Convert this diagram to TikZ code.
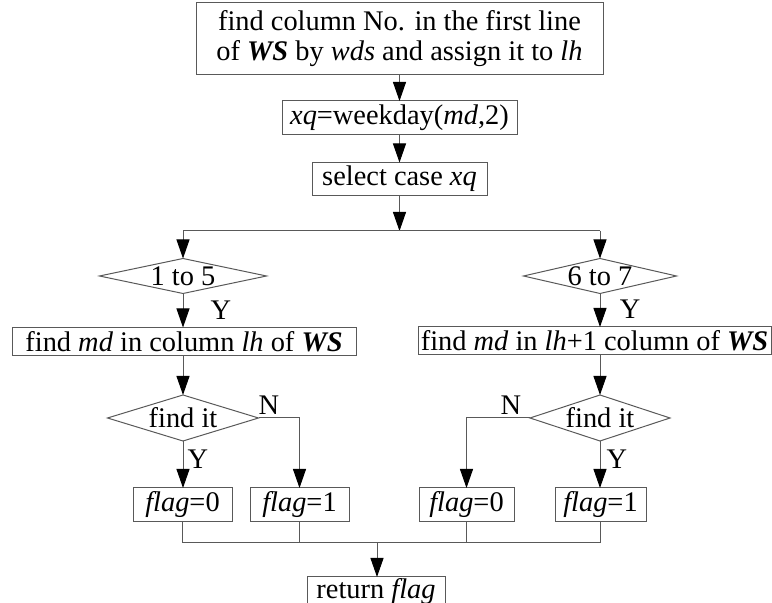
\documentclass[tikz,border=0pt]{standalone}
\usepackage{fontspec}
\setmainfont{Liberation Serif}
\usetikzlibrary{arrows.meta,shapes.geometric}
\begin{document}
\begin{tikzpicture}[x=0.5pt,y={(0pt,-0.5pt)},
    font=\fontsize{14.2pt}{15pt}\selectfont,
    flowbox/.style={draw=black!65,line width=0.5pt,inner sep=0pt,outer sep=0pt},
    cond/.style={diamond,draw=black!65,line width=0.5pt,inner sep=0pt,outer sep=0pt},
    ln/.style={draw=black!65,line width=0.5pt},
    arr/.style={ln,-{Triangle[width=6.5pt,length=9.5pt,color=black]}}]
        \useasboundingbox (0,0) rectangle (772,603);
        \node[flowbox,minimum width=203.5pt,minimum height=36pt,align=center] (find) at (399.5,39) {find column No. in the first line\\of \textbf{\textit{WS}} by \textit{wds} and assign it to \textit{lh}};
        \node[flowbox,minimum width=117.5pt,minimum height=17pt] (week) at (399.5,118) {\textit{xq}=weekday(\textit{md},2)};
        \node[flowbox,minimum width=87.5pt,minimum height=16.5pt] (sel) at (399.5,179) {select case \textit{xq}};
        \coordinate (split) at (399.5,231);
        \coordinate (splitL) at (183,231);
        \coordinate (splitR) at (600,231);
        
        \node[cond,minimum width=83.5pt,minimum height=17.5pt,label=center:1 to 5] (c15) at (183,276) {};
        \node[cond,minimum width=76.5pt,minimum height=17.5pt,label=center:6 to 7] (c67) at (600,276) {};
        \node (y15) at (221,310) {Y};
        \node (y67) at (630,309) {Y};
        \node[flowbox,minimum width=172pt,minimum height=14pt] (colL) at (184,341.5) {find \textit{md} in column \textit{lh} of \textbf{\textit{WS}}};
        \node[flowbox,minimum width=176.5pt,minimum height=14pt] (colR) at (594.5,341) {find \textit{md} in \textit{lh}+1 column of \textbf{\textit{WS}}};
        
        \node[cond,minimum width=75.5pt,minimum height=23pt,label=center:find it] (fitL) at (183,418) {};
        \node[cond,minimum width=70pt,minimum height=23pt,label=center:find it] (fitR) at (600,418) {};
        \node (nL) at (269,405) {N};
        \node (nR) at (511,405) {N};
        \node (yL) at (198,459) {Y};
        \node (yR) at (617,459) {Y};
        \node[flowbox,minimum width=49.5pt,minimum height=17pt] (flag0L) at (182.5,505) {\textit{flag}=0};
        \node[flowbox,minimum width=49.5pt,minimum height=17pt] (flag1L) at (299.5,505) {\textit{flag}=1};
        \node[flowbox,minimum width=47.5pt,minimum height=17pt] (flag0R) at (466.5,505) {\textit{flag}=0};
        \node[flowbox,minimum width=45.5pt,minimum height=17pt] (flag1R) at (600.5,505) {\textit{flag}=1};
        \coordinate (join) at (377,543);
        \node[flowbox,minimum width=69pt,minimum height=15pt] (ret) at (376,592) {return \textit{flag}};
        
        \draw[arr] (find) -- (week);
        \draw[arr] (week) -- (sel);
        \draw[arr] (sel) -- (split);
        \draw[ln] (splitL) -- (splitR);
        \draw[arr] (splitL) -- (c15);
        \draw[arr] (splitR) -- (c67);
        \draw[arr] (c15.south) -- (c15.south |- colL.north);
        \draw[arr] (c67.south) -- (c67.south |- colR.north);
        \draw[arr] (colL.south -| fitL) -- (fitL);
        \draw[arr] (colR.south -| fitR) -- (fitR);
        \draw[arr] (fitL.south) -- (fitL.south |- flag0L.north);
        \draw[arr] (fitL.east) -| (flag1L);
        \draw[arr] (fitR.west) -| (flag0R);
        \draw[arr] (fitR.south) -- (fitR.south |- flag1R.north);
        \draw[ln] (flag0L.south) |- (flag1R.south |- join) -- (flag1R.south);
        \draw[ln] (flag1L.south) -- (flag1L.south |- join);
        \draw[ln] (flag0R.south) -- (flag0R.south |- join);
        \draw[arr] (join) -- (join |- ret.north);
    \end{tikzpicture}
\end{document}
